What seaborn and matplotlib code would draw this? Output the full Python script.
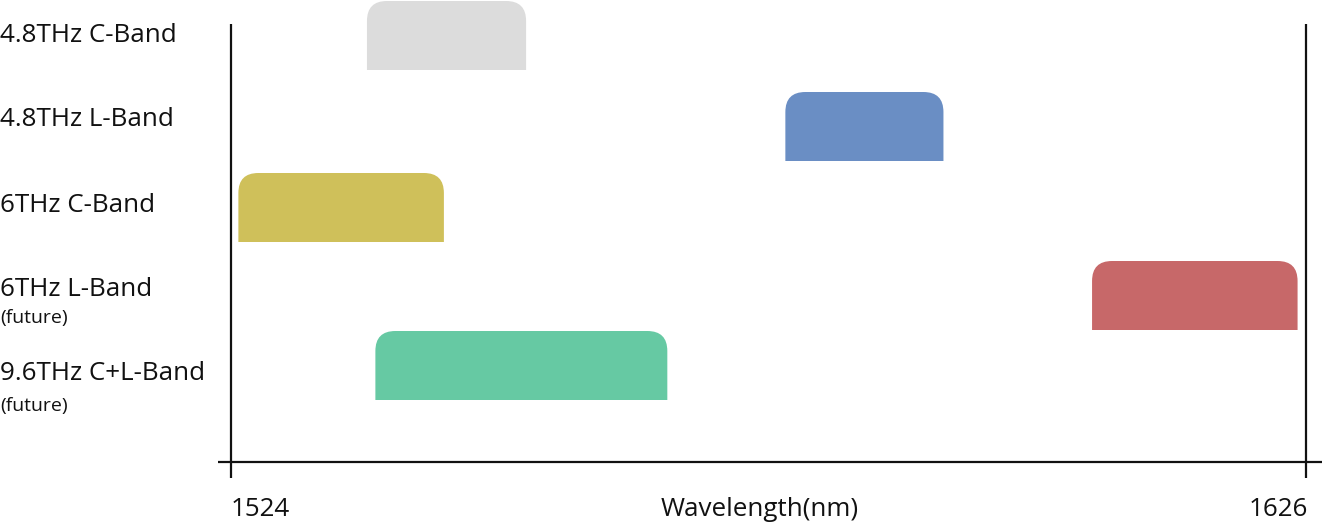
import matplotlib
matplotlib.use("Agg")
import matplotlib.pyplot as plt
import seaborn as sns
import pandas as pd
from matplotlib.path import Path
from matplotlib.patches import PathPatch

# ---- data ----
bands = ["4.8THz C-Band", "4.8THz L-Band", "6THz C-Band", "6THz L-Band", "9.6THz C+L-Band"]
notes = ["", "", "", "(future)", "(future)"]
start_nm = [1536.9, 1576.6, 1524.7, 1605.7, 1537.7]
end_nm = [1552.0, 1591.6, 1544.2, 1625.2, 1565.4]
colors = ["#dcdcdc", "#6a8ec4", "#cfc05a", "#c76869", "#66c9a3"]
axis_min, axis_max = 1524, 1626
tick_labels = ["1524", "1626"]
xlabel = "Wavelength(nm)"

# ---- layout (pixels) ----
W, H = 1322, 523
bar_top_px = [1, 92, 173, 261, 331]
bar_h_px = 69
label_y_px = [36, 120, 205, 289, 374]
note_y_px = [0, 0, 0, 318, 406]
x_axis_px0, x_axis_px1 = 231, 1306
corner_px = 20

scale = (axis_max - axis_min) / (x_axis_px1 - x_axis_px0)  # nm per px
def px2nm(px):
    return axis_min + (px - x_axis_px0) * scale

sns.set_theme(style="white")
plt.rcParams["font.family"] = ["Open Sans", "DejaVu Sans"]

fig = plt.figure(figsize=(W / 100, H / 100), dpi=100)
ax = fig.add_axes([0, 0, 1, 1])

df = pd.DataFrame({"band": bands, "width": [e - s for s, e in zip(start_nm, end_nm)]})
sns.barplot(data=df, y="band", x="width", hue="band", palette=colors,
            saturation=1, orient="h", legend=False, ax=ax)

# replace seaborn bars by rounded-top bars at their wavelength span
patches = list(ax.patches)
rx = corner_px * scale
ry = corner_px
for i, p in enumerate(patches):
    col = p.get_facecolor()
    p.remove()
    x0, x1 = start_nm[i], end_nm[i]
    yt = bar_top_px[i]
    yb = yt + bar_h_px
    verts = [(x0, yb), (x0, yt + ry), (x0, yt), (x0 + rx, yt),
             (x1 - rx, yt), (x1, yt), (x1, yt + ry), (x1, yb), (x0, yb)]
    codes = [Path.MOVETO, Path.LINETO, Path.CURVE3, Path.CURVE3,
             Path.LINETO, Path.CURVE3, Path.CURVE3, Path.LINETO, Path.CLOSEPOLY]
    ax.add_patch(PathPatch(Path(verts, codes), facecolor=col, edgecolor="none", zorder=2))

ax.set_xlim(px2nm(0), px2nm(W))
ax.set_ylim(H, 0)
ax.axis("off")

lw = 1.6
ax.vlines([axis_min, axis_max], 24, 478, color="#111111", lw=lw, zorder=3)
ax.hlines(462, px2nm(218), px2nm(W), color="#111111", lw=lw, zorder=3)

fs = 18.7
for i, b in enumerate(bands):
    ax.text(px2nm(0), label_y_px[i], b, fontsize=fs, ha="left", va="center", color="#111111")
    if notes[i]:
        ax.text(px2nm(0), note_y_px[i], notes[i], fontsize=14,
                ha="left", va="center", color="#111111")

ax.text(axis_min, 509, tick_labels[0], fontsize=fs, ha="left", va="center", color="#111111")
ax.text(axis_max + 2 * scale, 509, tick_labels[1], fontsize=fs, ha="right", va="center", color="#111111")
ax.text(px2nm(760), 510, xlabel, fontsize=fs, ha="center", va="center", color="#111111")

fig.savefig("out.png", dpi=100)
